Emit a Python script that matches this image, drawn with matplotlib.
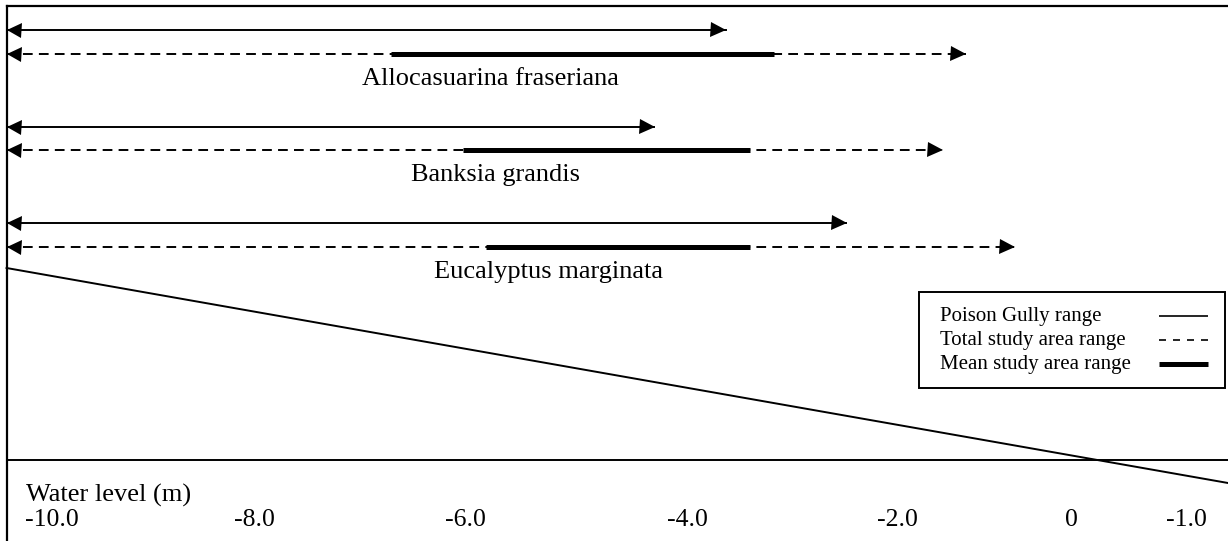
import matplotlib
matplotlib.use("Agg")
import matplotlib.pyplot as plt
from matplotlib.patches import Rectangle
from matplotlib.transforms import offset_copy

plt.rcParams.update({
    "font.family": ["Liberation Serif", "DejaVu Serif"],
    "font.size": 19,
})

# ── Data (water level, m) ─────────────────────────────────────────────────────
species = ["Allocasuarina fraseriana", "Banksia grandis", "Eucalyptus marginata"]
gully_min = [-10.43, -10.43, -10.43]
gully_max = [-3.62, -4.30, -2.48]
total_min = [-10.43, -10.43, -10.43]
total_max = [-1.35, -1.57, -0.89]
mean_min = [-6.79, -6.11, -5.89]
mean_max = [-3.16, -3.39, -3.39]

tick_pos = [-10.0, -8.08, -6.09, -3.98, -2.0, -0.35, 0.74]
tick_labels = ["-10.0", "-8.0", "-6.0", "-4.0", "-2.0", "0", "-1.0"]

slope_x = [-10.43, 1.134]
slope_y = [268, 483]

legend_labels = ["Poison Gully range", "Total study area range",
                 "Mean study area range"]

# ── Layout ────────────────────────────────────────────────────────────────────
W, H = 1228, 541
X_LEFT, X_RIGHT = -10.492, 1.134
FRAME_X = -10.43
ROW_TOP, ROW_STEP, DASH_OFF, LABEL_OFF = 30, 96.5, 23.5, 49
LABEL_X = [-7.065, -6.60, -6.38]
HEAD = 10.8      # arrow head size, points
LW = 1.4
DASH = (5, 3.2)

fig = plt.figure(figsize=(W / 100, H / 100), dpi=100)
ax = fig.add_axes([0, 0, 1, 1])
ax.set_xlim(X_LEFT, X_RIGHT)
ax.set_ylim(H, 0)
ax.axis("off")

# frame, baseline and slope line
ax.plot([FRAME_X, FRAME_X], [5.5, H], color="black", lw=1.6)
ax.plot([FRAME_X, X_RIGHT], [5.5, 5.5], color="black", lw=1.6)
ax.plot([FRAME_X, X_RIGHT], [460, 460], color="black", lw=1.4)
ax.plot(slope_x, slope_y, color="black", lw=1.4)

left_head = offset_copy(ax.transData, fig=fig, x=HEAD / 2, units="points")
right_head = offset_copy(ax.transData, fig=fig, x=-HEAD / 2, units="points")


def range_arrow(x0, x1, y, dashed=False):
    kw = dict(color="black", lw=LW)
    if dashed:
        kw["dashes"] = DASH
    ax.plot([x0, x1], [y, y], **kw)
    ax.plot(x0, y, marker="<", ms=HEAD, color="black", mew=0,
            transform=left_head)
    ax.plot(x1, y, marker=">", ms=HEAD, color="black", mew=0,
            transform=right_head)


for i, name in enumerate(species):
    y = ROW_TOP + i * ROW_STEP
    range_arrow(gully_min[i], gully_max[i], y)
    range_arrow(total_min[i], total_max[i], y + DASH_OFF, dashed=True)
    ax.plot([mean_min[i], mean_max[i]], [y + DASH_OFF] * 2, color="black",
            lw=3.6, solid_capstyle="butt")
    ax.text(LABEL_X[i], y + LABEL_OFF, name, ha="left", va="center")

# axis text
ax.text(-10.25, 495, "Water level (m)", ha="left", va="center")
for p, lab in zip(tick_pos, tick_labels):
    ax.text(p, 520, lab, ha="center", va="center", fontsize=18.5)

# legend, drawn on a pixel-unit overlay (labels left, samples right)
lg = fig.add_axes([0, 0, 1, 1])
lg.set_xlim(0, W)
lg.set_ylim(H, 0)
lg.axis("off")
lg.add_patch(Rectangle((919, 292), 306, 96, fill=False, ec="black", lw=1.4))
sample_styles = [dict(lw=1.2), dict(lw=1.2, dashes=(4.2, 4.2)), dict(lw=3.6)]
for k, (lab, st) in enumerate(zip(legend_labels, sample_styles)):
    ly = 316 + k * 24
    lg.text(940, ly, lab, ha="left", va="center", fontsize=15)
    lg.plot([1159, 1208], [ly, ly], color="black", solid_capstyle="butt", **st)

fig.savefig("out.png", dpi=100)
